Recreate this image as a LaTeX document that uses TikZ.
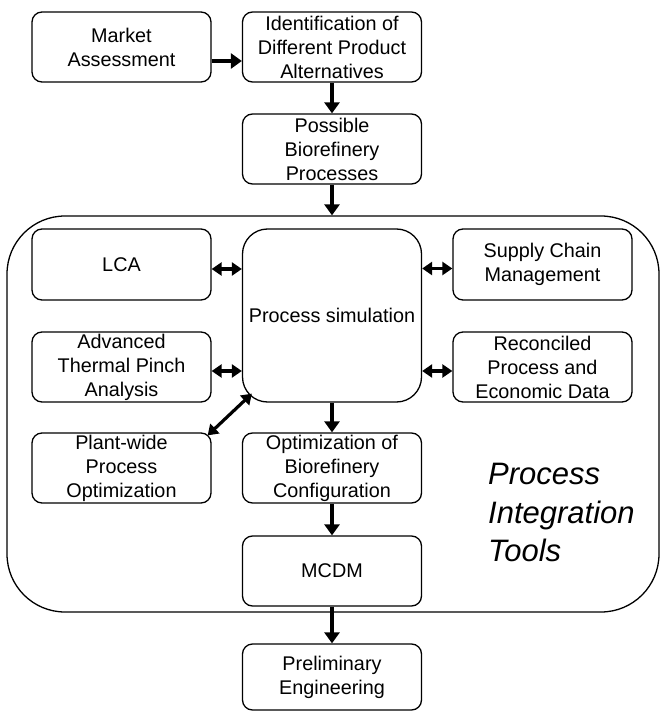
\documentclass[tikz,border=0pt]{standalone}
\usepackage{fontspec}
\setmainfont{Liberation Sans}
\usetikzlibrary{arrows.meta,calc}
\begin{document}
\begin{tikzpicture}[x=1pt,y=-1pt,
  box/.style={draw, line width=1.3pt, rounded corners=10pt, minimum width=179pt, minimum height=70pt, inner sep=0pt, align=center, font=\fontsize{19.8}{24}\selectfont},
  arr/.style={line width=3.2pt, -{Triangle[width=15pt,length=11pt]}},
  darr/.style={line width=3.2pt, {Triangle[width=13pt,length=10pt]}-{Triangle[width=13pt,length=10pt]}},
  title/.style={inner sep=0pt, align=left, font=\fontsize{31}{38.5}\selectfont\itshape}
]
\useasboundingbox (0,0) rectangle (661,711);
\fill[white] (0,0) rectangle (661,711);
% container
\node[draw, line width=1.3pt, rounded corners=58pt, minimum width=652pt, minimum height=396pt, inner sep=0pt] (container) at (333,414) {};
% boxes
\node[box] (market) at (121.5,47) {Market\\Assessment};
\node[box] (ident) at (332,47) {Identification of\\Different Product\\Alternatives};
\node[box] (possible) at (332,149) {Possible\\Biorefinery\\Processes};
\node[box, minimum height=71pt] (lca) at (121.5,264.5) {LCA};
\node[box, minimum height=173pt, rounded corners=25pt] (procsim) at (332,315.5) {Process simulation};
\node[box, minimum height=71pt] (supply) at (542.5,264.5) {Supply Chain\\Management};
\node[box] (advanced) at (121.5,367) {Advanced\\Thermal Pinch\\Analysis};
\node[box] (reconciled) at (542.5,367) {Reconciled\\Process and\\Economic Data};
\node[box] (plantwide) at (121.5,468) {Plant-wide\\Process\\Optimization};
\node[box] (optim) at (332,468) {Optimization of\\Biorefinery\\Configuration};
\node[box] (mcdm) at (332,571) {MCDM};
\node[box, minimum height=66pt] (prelim) at (332,677) {Preliminary\\Engineering};
\node[title, anchor=north west] (pit) at (488,463) {Process\\Integration\\Tools};
% connectors
\draw[arr] ($(market.east)+(0,14)$) -- ($(ident.west)+(0,14)$);
\draw[arr] (ident) -- (possible);
\draw[arr] (possible.south) -- (possible.south |- container.north);
\draw[darr] ($(lca.east)+(0,4.5)$) -- ($(procsim.west |- lca.east)+(0,4.5)$);
\draw[darr] ($(advanced.east)+(0,4)$) -- ($(procsim.west |- advanced.east)+(0,4)$);
\draw[darr] ($(procsim.east |- supply.west)+(0,4)$) -- ($(supply.west)+(0,4)$);
\draw[darr] ($(procsim.east |- reconciled.west)+(0,4)$) -- ($(reconciled.west)+(0,4)$);
\draw[darr] ($(procsim.south west)+(10,-9)$) -- ($(plantwide.north east)+(-4,3)$);
\draw[arr] (procsim) -- (optim);
\draw[arr] (optim) -- (mcdm);
\draw[arr] (mcdm) -- (prelim);
\end{tikzpicture}
\end{document}
